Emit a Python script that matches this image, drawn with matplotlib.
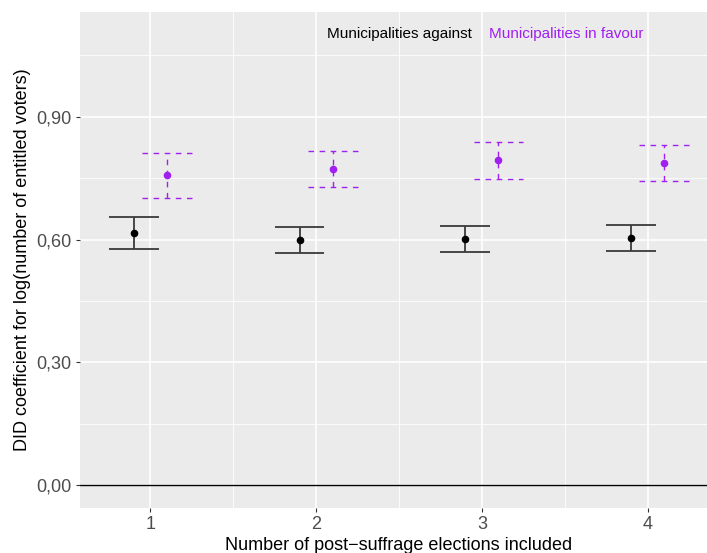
import numpy as np
import matplotlib
matplotlib.use("Agg")
import matplotlib.pyplot as plt

plt.rcParams['font.family'] = ['Liberation Sans', 'DejaVu Sans']

elections = [1, 2, 3, 4]
against_est = [0.617, 0.599, 0.602, 0.604]
against_lo = [0.578, 0.567, 0.570, 0.573]
against_hi = [0.655, 0.631, 0.634, 0.635]
favour_est = [0.757, 0.773, 0.794, 0.786]
favour_lo = [0.702, 0.729, 0.747, 0.742]
favour_hi = [0.811, 0.817, 0.839, 0.831]

PURPLE = '#A020F0'
DODGE = 0.1
CAP = 0.15


def main():
    fig = plt.figure(figsize=(7.07, 5.53), dpi=100)
    # panel is cut off at the right edge in the reference
    ax = fig.add_axes([80 / 707, 45 / 553, 638 / 707, 496 / 553])
    ax.set_facecolor('#EBEBEB')
    for s in ax.spines.values():
        s.set_visible(False)

    x = np.array(elections, dtype=float)

    # gridlines
    for v in [0.15, 0.45, 0.75, 1.05]:
        ax.axhline(v, color='white', lw=0.6, zorder=0)
    for v in [0.0, 0.3, 0.6, 0.9]:
        ax.axhline(v, color='white', lw=1.2, zorder=0)
    for v in [1.5, 2.5, 3.5]:
        ax.axvline(v, color='white', lw=0.6, zorder=0)
    for v in elections:
        ax.axvline(v, color='white', lw=1.2, zorder=0)

    ax.axhline(0, color='black', lw=1.0, zorder=1)

    # against
    xa = x - DODGE
    ax.vlines(xa, against_lo, against_hi, color='#3a3a3a', lw=1.3, zorder=2)
    ax.hlines(against_lo, xa - CAP, xa + CAP, color='#3a3a3a', lw=1.3, zorder=2)
    ax.hlines(against_hi, xa - CAP, xa + CAP, color='#3a3a3a', lw=1.3, zorder=2)
    ax.scatter(xa, against_est, s=20, color='black', zorder=3)

    # in favour
    xf = x + DODGE
    ax.vlines(xf, favour_lo, favour_hi, color=PURPLE, lw=1.0,
              linestyles=(0, (4, 4)), zorder=2)
    ax.hlines(favour_lo, xf - CAP, xf + CAP, color=PURPLE, lw=1.0,
              linestyles=(0, (4, 4)), zorder=2)
    ax.hlines(favour_hi, xf - CAP, xf + CAP, color=PURPLE, lw=1.0,
              linestyles=(0, (4, 4)), zorder=2)
    ax.scatter(xf, favour_est, s=20, color=PURPLE, zorder=3)

    ax.set_xlim(0.575, 4.425)
    ax.set_ylim(-0.055, 1.155)
    ax.set_xticks(elections)
    ax.set_xticklabels([str(e) for e in elections])
    ax.set_yticks([0.0, 0.3, 0.6, 0.9])
    ax.set_yticklabels(['0,00', '0,30', '0,60', '0,90'])
    ax.tick_params(colors='#333333', labelcolor='#4D4D4D', labelsize=13,
                   length=3, width=0.8, pad=3)

    ax.set_xlabel('Number of post\u2212suffrage elections included',
                  fontsize=13, color='black', labelpad=3)
    ax.set_ylabel('DID coefficient for log(number of entitled voters)',
                  fontsize=13, color='black', labelpad=4)

    fig.text(327 / 707, 1 - 34 / 553, 'Municipalities against',
             ha='left', va='center', fontsize=11, color='black')
    fig.text(489 / 707, 1 - 34 / 553, 'Municipalities in favour',
             ha='left', va='center', fontsize=11, color=PURPLE)

    fig.savefig('out.png', dpi=100)


if __name__ == "__main__":
    main()
